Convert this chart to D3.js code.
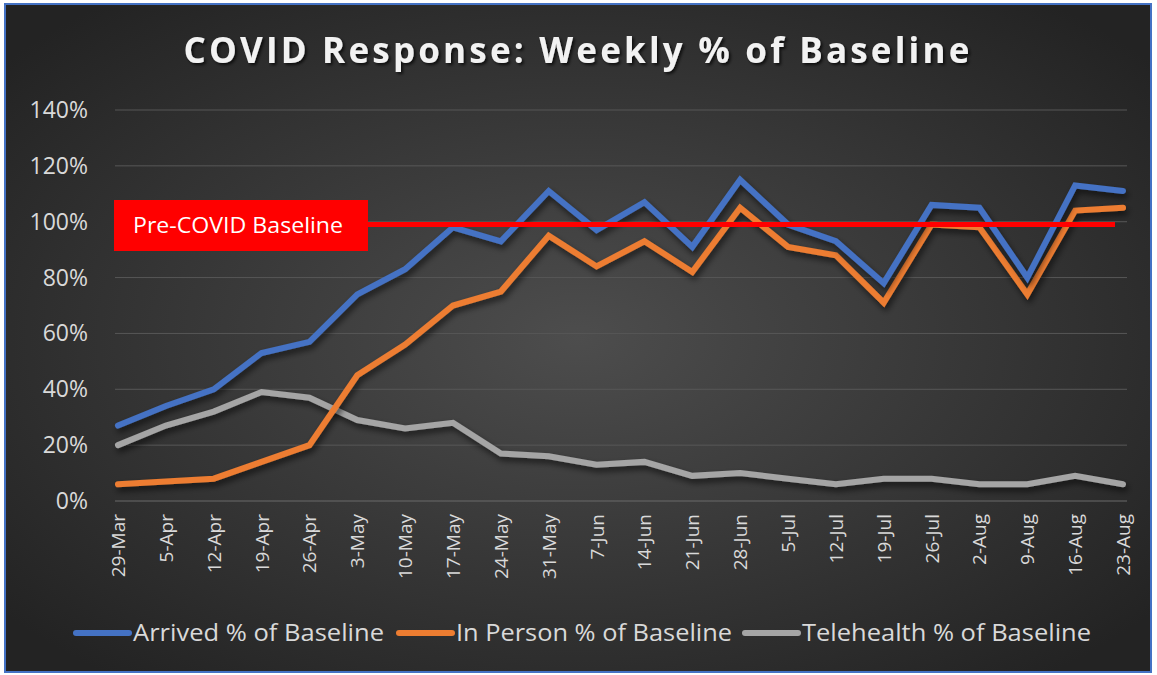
<!DOCTYPE html>
<html>
<head>
<meta charset="utf-8">
<script src="https://cdn.jsdelivr.net/npm/d3@7"></script>
<style>
  body { margin: 0; background: #fff; }
  svg { display: block; }
</style>
</head>
<body>
<svg class="chart"></svg>
<script>
let width = 1157,
  height = 675;

// chart data
let weeks = ["29-Mar", "5-Apr", "12-Apr", "19-Apr", "26-Apr", "3-May", "10-May", "17-May", "24-May", "31-May", "7-Jun",
  "14-Jun", "21-Jun", "28-Jun", "5-Jul", "12-Jul", "19-Jul", "26-Jul", "2-Aug", "9-Aug", "16-Aug", "23-Aug"];
let arrived = [27, 34, 40, 53, 57, 74, 83, 98, 93, 111, 97, 107, 91, 115, 99, 93, 78, 106, 105, 80, 113, 111];
let inPerson = [6, 7, 8, 14, 20, 45, 56, 70, 75, 95, 84, 93, 82, 105, 91, 88, 71, 99, 98, 74, 104, 105];
let telehealth = [20, 27, 32, 39, 37, 29, 26, 28, 17, 16, 13, 14, 9, 10, 8, 6, 8, 8, 6, 6, 9, 6];
let yTicks = [0, 20, 40, 60, 80, 100, 120, 140];
let baseline = 99;
let seriesNames = ["Arrived % of Baseline", "In Person % of Baseline", "Telehealth % of Baseline"];
let seriesColors = ["#4472c4", "#ed7d31", "#a5a5a5"];

let svg = d3.select(".chart").attr("width", width).attr("height", height);

// background gradient + shadow filter
let defs = svg.append("defs");
let grad = defs.append("radialGradient").attr("id", "bg")
  .attr("cx", "50%").attr("cy", "50%").attr("r", "65%");
grad.append("stop").attr("offset", "0%").attr("stop-color", "#4d4d4d");
grad.append("stop").attr("offset", "100%").attr("stop-color", "#232323");

let shadow = defs.append("filter").attr("id", "shadow")
  .attr("x", "-10%").attr("y", "-10%").attr("width", "120%").attr("height", "130%");
shadow.append("feDropShadow").attr("dx", 2).attr("dy", 4).attr("stdDeviation", 3)
  .attr("flood-color", "#000").attr("flood-opacity", 0.6);

let tshadow = defs.append("filter").attr("id", "tshadow");
tshadow.append("feDropShadow").attr("dx", 2).attr("dy", 2).attr("stdDeviation", 1.5)
  .attr("flood-color", "#000").attr("flood-opacity", 0.7);

svg.append("rect")
  .attr("x", 5).attr("y", 4).attr("width", 1146).attr("height", 668)
  .attr("fill", "url(#bg)")
  .attr("stroke", "#4472c4").attr("stroke-width", 2);

// title
svg.append("text")
  .attr("x", 578).attr("y", 63)
  .attr("text-anchor", "middle")
  .attr("font-family", "Open Sans")
  .attr("font-weight", "bold")
  .attr("font-size", 35)
  .attr("letter-spacing", 3.2)
  .attr("fill", "#f2f2f2")
  .attr("filter", "url(#tshadow)")
  .text("COVID Response: Weekly % of Baseline");

// scales
let x = d3.scalePoint().domain(weeks).range([118, 1123]);
let y = d3.scaleLinear().domain([0, 140]).range([501, 110]);

// gridlines
svg.append("g")
  .selectAll("line")
  .data(yTicks.filter(d => d > 0))
  .enter()
  .append("line")
  .attr("x1", 115).attr("x2", 1127)
  .attr("y1", d => y(d)).attr("y2", d => y(d))
  .attr("stroke", "#575757").attr("stroke-width", 1);

// y labels
svg.append("g")
  .selectAll("text")
  .data(yTicks)
  .enter()
  .append("text")
  .attr("x", 88).attr("y", d => y(d) + 8)
  .attr("text-anchor", "end")
  .attr("font-family", "Open Sans")
  .attr("font-size", 23)
  .attr("fill", "#d9d9d9")
  .text(d => d + "%");

// x axis line
svg.append("line")
  .attr("x1", 115).attr("x2", 1127)
  .attr("y1", y(0)).attr("y2", y(0))
  .attr("stroke", "#6a6a6a").attr("stroke-width", 1.2);

// x labels (rotated)
svg.append("g")
  .selectAll("text")
  .data(weeks)
  .enter()
  .append("text")
  .attr("transform", d => "translate(" + (x(d) + 7) + ",514) rotate(-90)")
  .attr("text-anchor", "end")
  .attr("font-family", "Open Sans")
  .attr("font-size", 19)
  .attr("fill", "#d9d9d9")
  .text(d => d);

// lines
let line = d3.line()
  .x((d, i) => x(weeks[i]))
  .y(d => y(d));

let allSeries = [telehealth, inPerson, arrived];
let allColors = [seriesColors[2], seriesColors[1], seriesColors[0]];

svg.append("g")
  .selectAll("path")
  .data(allSeries)
  .enter()
  .append("path")
  .attr("d", line)
  .attr("fill", "none")
  .attr("stroke", (d, i) => allColors[i])
  .attr("stroke-width", 6)
  .attr("stroke-linecap", "round")
  .attr("stroke-linejoin", "miter")
  .attr("filter", "url(#shadow)");

// baseline marker
svg.append("line")
  .attr("x1", 365).attr("x2", 1115)
  .attr("y1", y(baseline)).attr("y2", y(baseline))
  .attr("stroke", "#ff0000").attr("stroke-width", 5);

svg.append("rect")
  .attr("x", 114).attr("y", 200).attr("width", 254).attr("height", 51)
  .attr("fill", "#ff0000");

svg.append("text")
  .attr("x", 238).attr("y", 233)
  .attr("text-anchor", "middle")
  .attr("font-family", "Open Sans")
  .attr("font-size", 22)
  .attr("fill", "#ffffff")
  .attr("textLength", 210)
  .attr("lengthAdjust", "spacingAndGlyphs")
  .text("Pre-COVID Baseline");

// legend
let legendX = [74, 397, 743];
let legendW = [251, 276, 289];
let legend = svg.append("g")
  .selectAll("g")
  .data(seriesNames)
  .enter()
  .append("g")
  .attr("transform", (d, i) => "translate(" + legendX[i] + ",633)");

legend.append("line")
  .attr("x1", 2).attr("x2", 55)
  .attr("stroke", (d, i) => seriesColors[i])
  .attr("stroke-width", 6)
  .attr("stroke-linecap", "round");

legend.append("text")
  .attr("x", 59).attr("y", 8)
  .attr("font-family", "Open Sans")
  .attr("font-size", 23)
  .attr("fill", "#d9d9d9")
  .attr("textLength", (d, i) => legendW[i])
  .attr("lengthAdjust", "spacingAndGlyphs")
  .text(d => d);
</script>
</body>
</html>
